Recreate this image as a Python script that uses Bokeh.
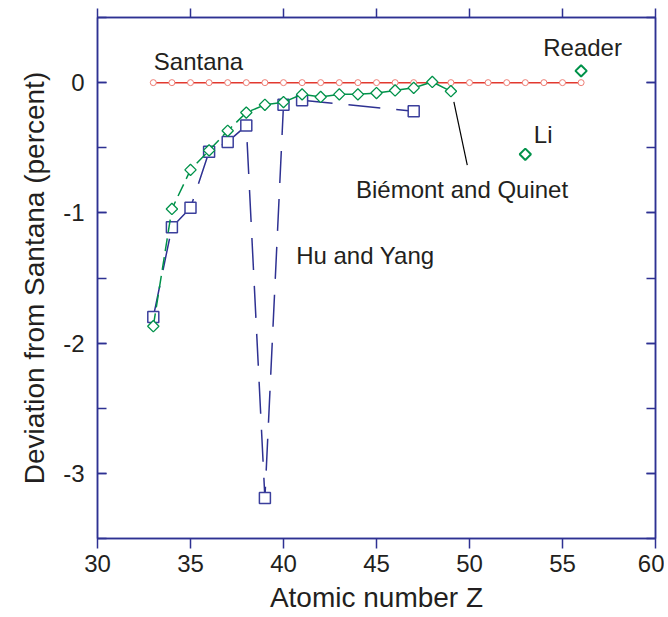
import math
from bokeh.plotting import figure
from bokeh.models import (LinearAxis, Range1d, FixedTicker, SingleIntervalTicker,
                          Label, CustomJSTickFormatter)
from bokeh.embed import file_html
from bokeh.resources import INLINE

# ---- data ----
santana_z = list(range(33, 57))
santana_dev = [0.0] * len(santana_z)

bq_z = [33, 34, 35, 36, 37, 38, 39, 40, 41, 42, 43, 44, 45, 46, 47, 48, 49]
bq_dev = [-1.87, -0.97, -0.67, -0.52, -0.37, -0.23, -0.17, -0.15, -0.09, -0.11,
          -0.09, -0.09, -0.08, -0.06, -0.04, 0.005, -0.066]

li_z = [53]
li_dev = [-0.55]
reader_z = [56]
reader_dev = [0.09]

hy_z = [33, 34, 35, 36, 37, 38, 39, 40, 41, 47]
hy_dev = [-1.80, -1.11, -0.96, -0.53, -0.455, -0.33, -3.19, -0.17, -0.135, -0.22]

x_ticks = [30, 35, 40, 45, 50, 55, 60]

NAVY = "#2e3192"
RED = "#e2392f"
GREEN = "#00924a"
TXT = "#231f20"
FONT = "Liberation Sans"

p = figure(width=664, height=615, output_backend="svg", toolbar_location=None,
           x_range=Range1d(30, 60), y_range=Range1d(-3.5, 0.5),
           min_border_left=97, min_border_right=9, min_border_top=17,
           min_border_bottom=77)
p.grid.visible = False
p.outline_line_color = NAVY
p.outline_line_width = 1.5
p.background_fill_color = "white"
p.border_fill_color = "white"

# bottom axis
xa = p.xaxis[0]
xa.ticker = FixedTicker(ticks=x_ticks, minor_ticks=[])
xa.axis_label = "Atomic number Z"
# left axis
ya = p.yaxis[0]
ya.ticker = SingleIntervalTicker(interval=1, num_minor_ticks=2)
ya.formatter = CustomJSTickFormatter(code="return tick.toString()")
ya.axis_label = "Deviation from Santana (percent)"

for ax in (xa, ya):
    ax.axis_line_color = NAVY
    ax.axis_line_width = 1.5
    ax.major_tick_line_color = NAVY
    ax.minor_tick_line_color = NAVY
    ax.major_tick_line_width = 1.5
    ax.minor_tick_line_width = 1.5
    ax.major_label_text_font = FONT
    ax.major_label_text_font_size = "24px"
    ax.major_label_text_color = TXT
    ax.axis_label_text_font = FONT
    ax.axis_label_text_font_size = "28px"
    ax.axis_label_text_font_style = "normal"
    ax.axis_label_text_color = TXT

xa.major_tick_in = 0
xa.major_tick_out = 10
xa.minor_tick_in = 0
xa.minor_tick_out = 0
xa.major_label_standoff = 6
xa.axis_label_standoff = 7

ya.major_tick_in = 9
ya.major_tick_out = 0
ya.minor_tick_in = 9
ya.minor_tick_out = 0
ya.major_label_standoff = 13
ya.axis_label_standoff = 10

blank = CustomJSTickFormatter(code="return ''")
top = LinearAxis(ticker=FixedTicker(ticks=x_ticks, minor_ticks=[]), formatter=blank,
                 axis_line_color=NAVY, axis_line_width=1.5,
                 major_tick_line_color=NAVY, major_tick_line_width=1.5,
                 major_tick_in=0, major_tick_out=9, minor_tick_in=0, minor_tick_out=0,
                 major_label_standoff=0)
p.add_layout(top, "above")
right = LinearAxis(ticker=SingleIntervalTicker(interval=1, num_minor_ticks=2), formatter=blank,
                   axis_line_color=NAVY, axis_line_width=1.5,
                   major_tick_line_color=NAVY, major_tick_line_width=1.5,
                   minor_tick_line_color=NAVY, minor_tick_line_width=1.5,
                   major_tick_in=9, major_tick_out=0, minor_tick_in=9, minor_tick_out=0,
                   major_label_standoff=0)
p.add_layout(right, "right")

# Santana
p.line(santana_z, santana_dev, line_color=RED, line_width=1.5)
p.scatter(santana_z, santana_dev, marker="circle", size=6, line_color="#ee7d74",
          fill_color="white", line_width=1)

# Hu and Yang
p.line(hy_z, hy_dev, line_color=NAVY, line_width=1.5, line_dash="32 16")
p.scatter(hy_z, hy_dev, marker="square", size=11, line_color="#3b3f9c",
          fill_color="white", line_width=1.5)

# Biemont and Quinet
p.line(bq_z, bq_dev, line_color=GREEN, line_width=1.5, line_dash="13 6")
rot = math.pi / 4
p.scatter(bq_z, bq_dev, marker="square", angle=rot, size=8, line_color=GREEN,
          fill_color="white", line_width=1.3)
p.scatter(li_z, li_dev, marker="square", angle=rot, size=8, line_color=GREEN,
          fill_color="white", line_width=2)
p.scatter(reader_z, reader_dev, marker="square", angle=rot, size=8, line_color=GREEN,
          fill_color="white", line_width=2)

# leader line
p.line([49.16, 49.88], [-0.148, -0.633], line_color="black", line_width=1.2)

def lab(x, y, t):
    p.add_layout(Label(x=x, y=y, text=t, text_font=FONT, text_font_size="24px",
                       text_color=TXT, text_align="center", text_baseline="middle"))

lab(35.43, 0.16, "Santana")
lab(56.08, 0.27, "Reader")
lab(53.96, -0.40, "Li")
lab(49.6, -0.82, "Biémont and Quinet")
lab(44.4, -1.33, "Hu and Yang")

open("out.html", "w").write(file_html(p, INLINE))
